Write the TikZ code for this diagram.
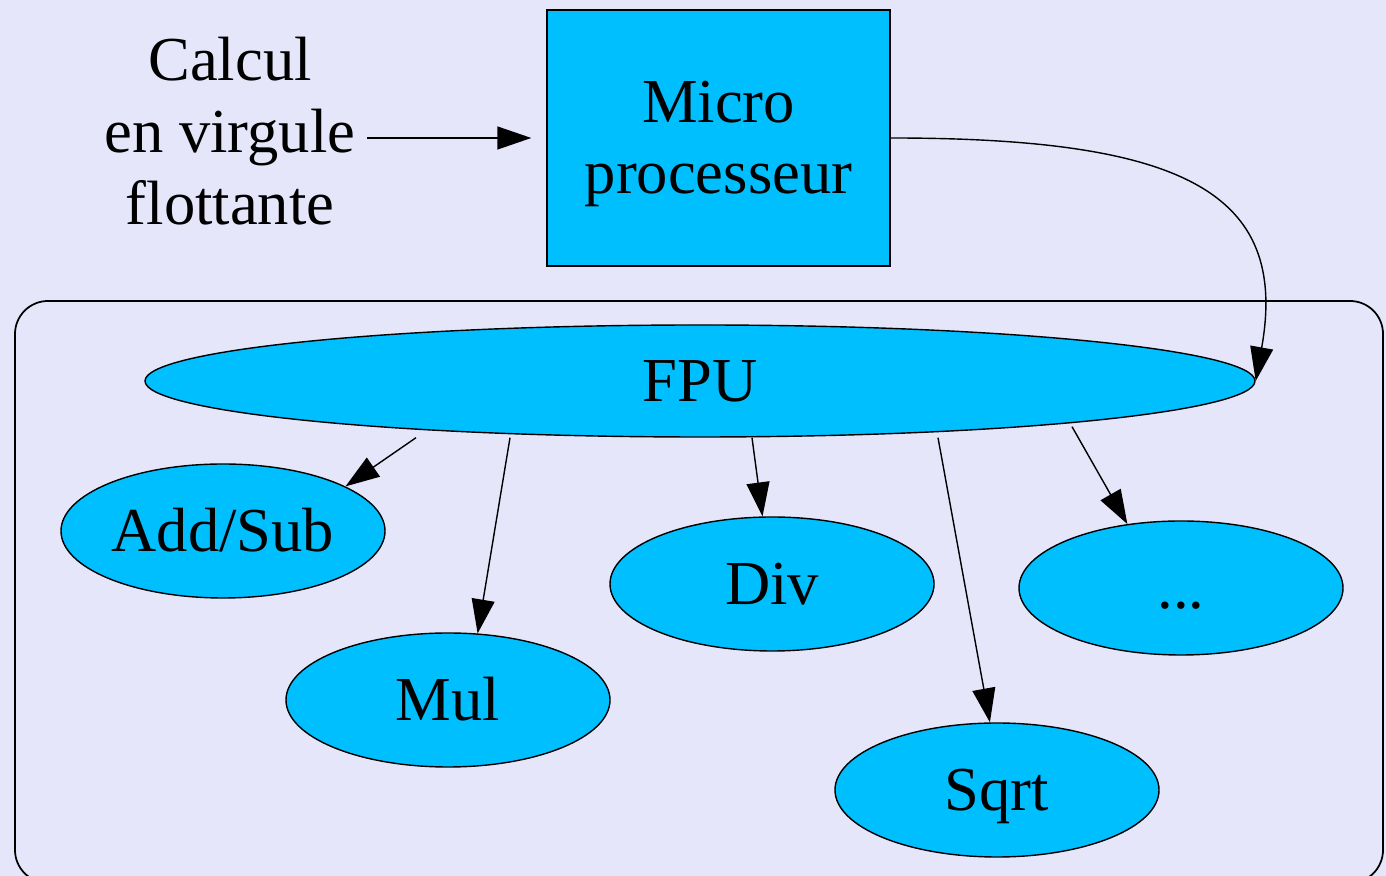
\documentclass[tikz,border=0pt]{standalone}
\usepackage{fontspec}
\setmainfont{Liberation Serif}
\usetikzlibrary{shapes.geometric, arrows.meta}
\definecolor{bgcol}{RGB}{230,230,250}
\definecolor{unitcol}{RGB}{0,191,255}
\newcommand{\lblfont}{\fontsize{17.8}{20.4}\selectfont}

\begin{document}
\begin{tikzpicture}[
unit/.style={ellipse,draw,fill=unitcol,line width=0.4pt,inner sep=0pt,minimum width=3.24cm,minimum height=1.34cm,font=\lblfont,text height=0.415cm,text depth=0pt},
arr/.style={-{Triangle[length=0.34cm,width=0.23cm]},line width=0.4pt}]
\useasboundingbox (0,0) rectangle (13.86,-8.76);
\fill[bgcol] (0,0) rectangle (13.86,-8.76);
\clip (0,0) rectangle (13.86,-8.76);
\draw[line width=0.5pt,rounded corners=0.33cm] (0.15,-3.01) rectangle (13.83,-8.83);

\node[font=\lblfont,align=center,inner sep=0pt] (calc) at (2.30,-1.31) {Calcul\\en virgule\\flottante};
\node[draw,fill=unitcol,line width=0.4pt,font=\lblfont,align=center,minimum width=3.43cm,minimum height=2.56cm,inner sep=0pt,text height=1.15cm,text depth=0.03cm] (micro) at (7.185,-1.38) {Micro\\processeur};
\node[unit,minimum width=11.10cm,minimum height=1.12cm] (fpu) at (7.00,-3.81) {FPU};
\node[unit] (addsub) at (2.23,-5.31) {Add/Sub};
\node[unit] (mul) at (4.48,-7.00) {Mul};
\node[unit] (div) at (7.72,-5.84) {Div};
\node[unit] (etc) at (11.81,-5.88) {...};
\node[unit] (sqrt) at (9.97,-7.90) {Sqrt};

\draw[arr,shorten <=0.11cm,shorten >=0.15cm] (calc.east |- micro.west) -- (micro.west);
\draw[arr] (micro.east) .. controls +(2.90,0) and +(0.34,1.90) .. (fpu.east);
\draw[arr] ([xshift=-2.84cm]fpu.south) -- (addsub.20);
\draw[arr] ([xshift=-1.90cm]fpu.south) -- (mul.66);
\draw[arr] ([xshift=0.52cm]fpu.south) -- (div.98);
\draw[arr] ([xshift=2.38cm]fpu.south) -- (sqrt.96);
\draw[arr] ([xshift=3.72cm,yshift=0.11cm]fpu.south) -- (etc.130);
\end{tikzpicture}
\end{document}
